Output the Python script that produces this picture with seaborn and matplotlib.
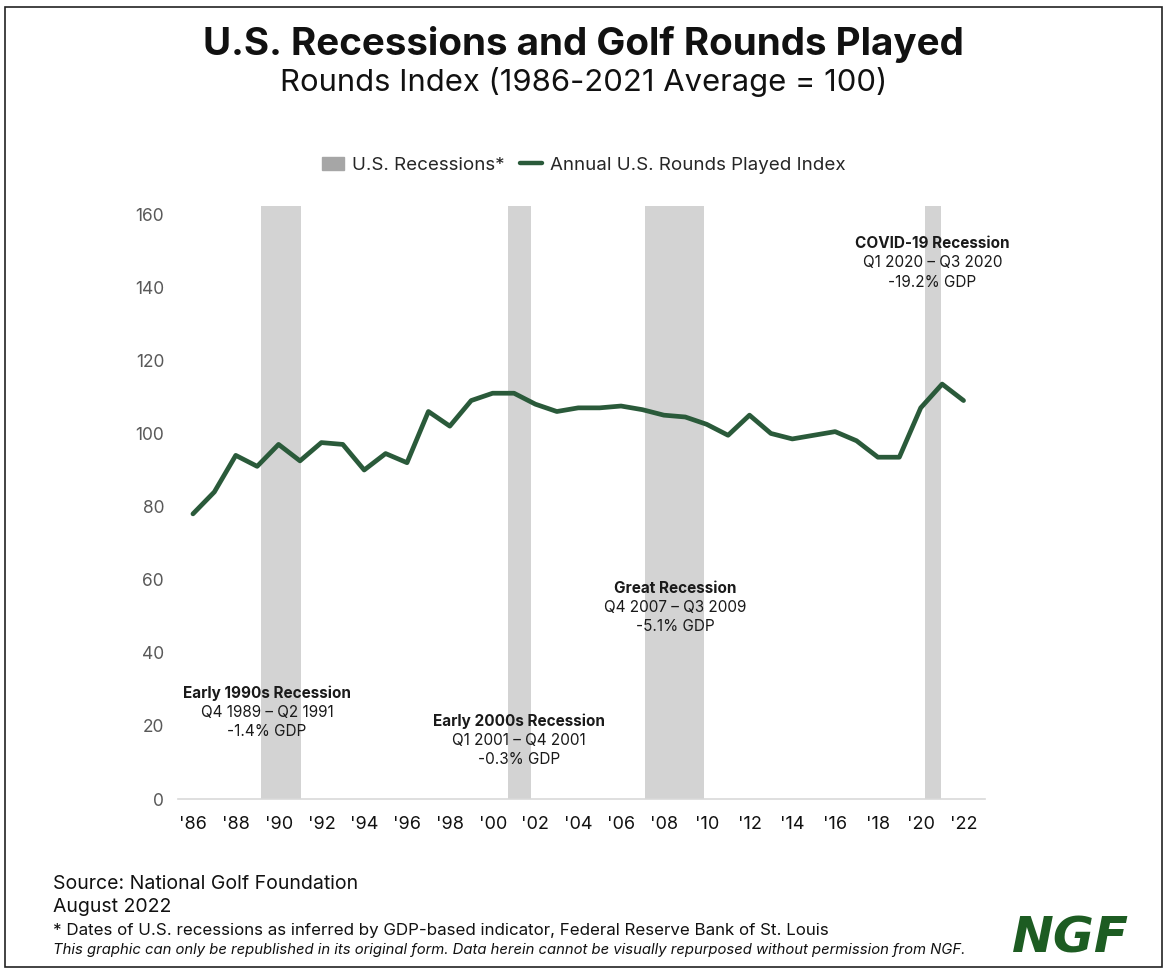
import matplotlib
matplotlib.use('Agg')
import matplotlib.pyplot as plt
import seaborn as sns
import pandas as pd
from matplotlib.patches import Patch, Rectangle
from matplotlib.lines import Line2D

years = list(range(1986, 2023))
rounds_index = [78, 84, 94, 91, 97, 92.5, 97.5, 97, 90, 94.5, 92, 106, 102, 109, 111, 111,
                108, 106, 107, 107, 107.5, 106.5, 105, 104.5, 102.5, 99.5, 105, 100, 98.5,
                99.5, 100.5, 98, 93.5, 93.5, 107, 113.5, 109]

rec_start = [1989.2, 2000.71, 2007.14, 2020.21]
rec_end = [1991.05, 2001.78, 2009.87, 2020.96]
rec_names = ['Early 1990s Recession', 'Early 2000s Recession', 'Great Recession', 'COVID-19 Recession']
rec_dates = ['Q4 1989 \u2013 Q2 1991', 'Q1 2001 \u2013 Q4 2001', 'Q4 2007 \u2013 Q3 2009', 'Q1 2020 \u2013 Q3 2020']
rec_gdp = ['-1.4% GDP', '-0.3% GDP', '-5.1% GDP', '-19.2% GDP']
label_x = [1989.46, 2001.24, 2008.53, 2020.55]
label_y = [29, 21.3, 57.7, 152]

tick_years = list(range(1986, 2023, 2))
tick_labels = ["'" + str(y)[2:] for y in tick_years]

df = pd.DataFrame({'year': years, 'index': rounds_index})

sns.set_style('white')
plt.rcParams['font.family'] = ['Inter', 'DejaVu Sans']

fig = plt.figure(figsize=(11.67, 9.71), dpi=100)
ax = fig.add_axes([0.1525, 0.1771, 0.6915, 0.6107])

green = '#2a5a3a'
for s, e in zip(rec_start, rec_end):
    ax.axvspan(s, e, color='#d3d3d3', lw=0, zorder=1)

sns.lineplot(data=df, x='year', y='index', color=green, lw=3.4, ax=ax, zorder=3,
             solid_capstyle='round', solid_joinstyle='round')

for x, y, n, d, g in zip(label_x, label_y, rec_names, rec_dates, rec_gdp):
    ax.text(x, y, n, ha='center', va='center', fontsize=11, fontweight='bold', color='#1a1a1a', zorder=4)
    ax.text(x, y - 5.3, d, ha='center', va='center', fontsize=11, color='#1a1a1a', zorder=4)
    ax.text(x, y - 10.6, g, ha='center', va='center', fontsize=11, color='#1a1a1a', zorder=4)

ax.set_xlim(1985.3, 2023.0)
ax.set_ylim(0, 162.2)
ax.set_yticks(range(0, 161, 20))
ax.set_xticks(tick_years)
ax.set_xticklabels(tick_labels)
ax.tick_params(axis='y', labelsize=12.5, labelcolor='#595959', length=0, pad=10)
ax.tick_params(axis='x', labelsize=13, labelcolor='#111111', length=0, pad=12)
ax.set_xlabel('')
ax.set_ylabel('')
for sp in ['top', 'right', 'left']:
    ax.spines[sp].set_visible(False)
ax.spines['bottom'].set_color('#d9d9d9')
ax.spines['bottom'].set_linewidth(1.2)

fig.text(0.5, 0.954, 'U.S. Recessions and Golf Rounds Played', ha='center', va='center',
         fontsize=27.8, fontweight='bold', color='#111111')
fig.text(0.5, 0.9155, 'Rounds Index (1986-2021 Average = 100)', ha='center', va='center',
         fontsize=22.3, color='#111111')

handles = [Patch(color='#a6a6a6', label='U.S. Recessions*'),
           Line2D([0], [0], color=green, lw=3.2, label='Annual U.S. Rounds Played Index')]
fig.legend(handles=handles, loc='center', bbox_to_anchor=(0.5, 0.830), ncol=2, frameon=False,
           fontsize=13.5, handlelength=1.2, handleheight=0.7, columnspacing=0.8, handletextpad=0.4)

fig.text(0.045, 0.0896, 'Source: National Golf Foundation', fontsize=14, va='center', color='#111111')
fig.text(0.045, 0.0659, 'August 2022', fontsize=14, va='center', color='#111111')
fig.text(0.045, 0.0422, '* Dates of U.S. recessions as inferred by GDP-based indicator, Federal Reserve Bank of St. Louis',
         fontsize=12.2, va='center', color='#111111')
fig.text(0.045, 0.0216, 'This graphic can only be republished in its original form. Data herein cannot be visually '
         'repurposed without permission from NGF.', fontsize=10.7, style='italic', va='center', color='#111111')
fig.text(0.9175, 0.033, 'NGF', fontsize=36, fontweight='black', style='italic', ha='center', va='center',
         color='#1d5c22', family=['DejaVu Sans'])

fig.patches.append(Rectangle((0.004, 0.004), 0.992, 0.989, transform=fig.transFigure,
                             fill=False, edgecolor='#222222', lw=1.2))

fig.savefig('out.png', dpi=100)
